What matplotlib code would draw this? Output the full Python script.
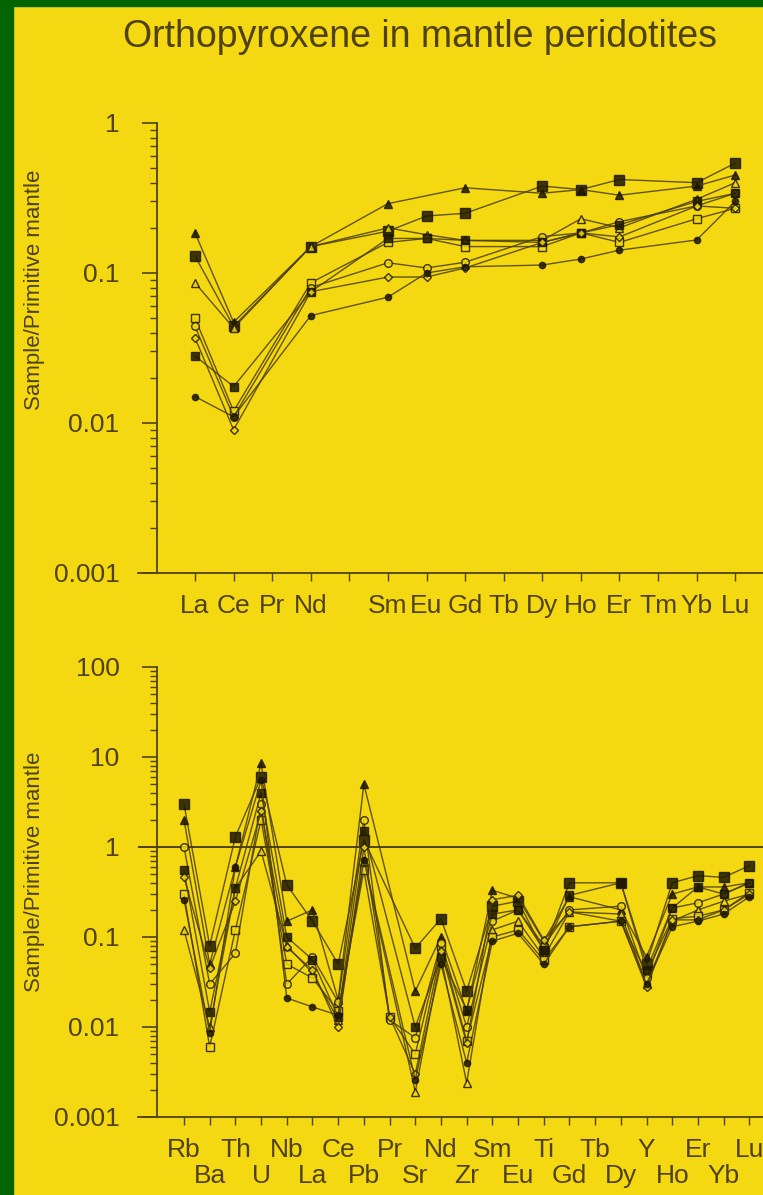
import numpy as np
import matplotlib
matplotlib.use('Agg')
import matplotlib.pyplot as plt
from matplotlib.patches import Rectangle
from matplotlib.ticker import LogLocator, NullFormatter

n = np.nan

# REE pattern (upper panel)
ree = ['La', 'Ce', 'Pr', 'Nd', '', 'Sm', 'Eu', 'Gd', 'Tb', 'Dy', 'Ho', 'Er', 'Tm', 'Yb', 'Lu']
ree_a = [0.13, 0.044, n, 0.15, n, 0.19, 0.24, 0.25, n, 0.38, 0.36, 0.42, n, 0.40, 0.54]
ree_b = [0.185, 0.047, n, 0.15, n, 0.29, n, 0.37, n, 0.34, 0.36, 0.33, n, 0.38, 0.45]
ree_c = [0.086, 0.043, n, 0.15, n, 0.20, 0.18, 0.165, n, 0.165, 0.23, 0.20, n, 0.31, 0.40]
ree_d = [0.05, 0.012, n, 0.086, n, 0.16, 0.17, 0.15, n, 0.15, 0.185, 0.16, n, 0.23, 0.27]
ree_e = [0.044, 0.011, n, 0.08, n, 0.117, 0.108, 0.118, n, 0.175, 0.185, 0.22, n, 0.28, 0.34]
ree_f = [0.028, 0.0175, n, 0.075, n, 0.17, 0.17, 0.165, n, 0.16, 0.185, 0.21, n, 0.30, 0.34]
ree_g = [0.037, 0.009, n, 0.075, n, 0.094, 0.094, 0.108, n, 0.16, 0.185, 0.174, n, 0.28, 0.27]
ree_h = [0.015, 0.011, n, 0.052, n, 0.069, 0.10, 0.11, n, 0.113, 0.124, 0.142, n, 0.166, 0.30]

# extended trace element pattern (lower panel)
trace = ['Rb', 'Ba', 'Th', 'U', 'Nb', 'La', 'Ce', 'Pb', 'Pr', 'Sr', 'Nd', 'Zr',
         'Sm', 'Eu', 'Ti', 'Gd', 'Tb', 'Dy', 'Y', 'Ho', 'Er', 'Yb', 'Lu']
tr_1 = [3.0, 0.08, 1.3, 6.0, 0.38, 0.15, 0.05, 1.2, n, 0.075, 0.16, 0.025, 0.22, 0.25, 0.07, 0.40, n, 0.40, 0.05, 0.40, 0.48, 0.46, 0.62]
tr_2 = [2.0, 0.05, 0.6, 8.5, 0.15, 0.20, 0.02, 5.0, n, 0.025, 0.10, 0.015, 0.33, 0.27, 0.09, 0.28, n, 0.20, 0.06, 0.30, 0.36, 0.36, 0.40]
tr_3 = [0.12, 0.01, 0.35, 0.9, 0.08, 0.04, 0.012, 0.7, n, 0.0019, 0.06, 0.0024, 0.12, 0.15, 0.06, 0.19, n, 0.18, 0.03, 0.15, 0.20, 0.25, 0.30]
tr_4 = [0.30, 0.006, 0.12, 2.0, 0.05, 0.035, 0.015, 0.55, 0.013, 0.005, 0.08, 0.007, 0.10, 0.12, 0.055, 0.13, n, 0.15, 0.04, 0.16, 0.17, 0.20, 0.31]
tr_5 = [1.0, 0.03, 0.066, 3.0, 0.03, 0.06, 0.019, 2.0, 0.012, 0.0076, 0.086, 0.01, 0.15, 0.20, 0.08, 0.20, n, 0.22, 0.035, 0.21, 0.24, 0.30, 0.40]
tr_6 = [0.55, 0.0147, 0.35, 4.0, 0.10, 0.056, 0.013, 1.5, n, 0.01, 0.06, 0.0155, 0.18, 0.20, 0.072, 0.29, n, 0.40, 0.043, 0.21, 0.36, 0.30, 0.40]
tr_7 = [0.46, 0.045, 0.25, 2.5, 0.077, 0.043, 0.01, 1.0, 0.013, 0.003, 0.07, 0.0066, 0.26, 0.29, 0.093, 0.19, n, 0.15, 0.028, 0.155, 0.155, 0.20, 0.30]
tr_8 = [0.26, 0.0086, 0.6, 5.5, 0.021, 0.0167, 0.0135, 0.72, n, 0.0026, 0.05, 0.004, 0.09, 0.11, 0.05, 0.13, n, 0.15, 0.03, 0.13, 0.15, 0.18, 0.28]

yellow = '#f4d812'
green = '#006400'
ink = '#4f4210'
mark = '#1e1800'
line_c = '#4a3c06'

plt.rcParams['font.family'] = ['Liberation Sans', 'DejaVu Sans']

fig = plt.figure(figsize=(7.63, 11.95), dpi=100, facecolor=yellow)
W, H = 763.0, 1195.0

# marker styles: (marker, size, filled)
styles = [('s', 7.5, True), ('^', 5.5, True), ('^', 5.5, False), ('s', 6, False),
          ('o', 5.5, False), ('s', 6, True), ('D', 4.5, False), ('o', 4.5, True)]


def draw(ax, series):
    for vals, (mk, ms, filled) in zip(series, styles):
        v = np.array(vals, dtype=float)
        x = np.arange(len(v))
        ok = ~np.isnan(v)
        ax.plot(x[ok], v[ok], color=line_c, lw=1.0, alpha=0.85, marker=mk, ms=ms,
                mfc=mark if filled else yellow, mec=mark, mew=1.0)


def style(ax, spine_x, ticks, labels):
    ax.set_facecolor('none')
    ax.set_yscale('log')
    for s in ['top', 'right']:
        ax.spines[s].set_visible(False)
    ax.spines['left'].set_position(('data', spine_x))
    for s in ['left', 'bottom']:
        ax.spines[s].set_color(ink)
        ax.spines[s].set_linewidth(1.3)
    ax.set_yticks(ticks, labels)
    ax.yaxis.set_minor_locator(LogLocator(base=10, subs=np.arange(2, 10), numticks=20))
    ax.yaxis.set_minor_formatter(NullFormatter())
    ax.tick_params(axis='y', which='major', direction='out', length=11, width=1.2,
                   color=ink, labelcolor=ink, labelsize=19, pad=16)
    ax.tick_params(axis='y', which='minor', direction='out', length=5, width=1.0, color=ink)
    ax.tick_params(axis='x', which='both', direction='out', length=6, width=1.0,
                   color=ink, labelcolor=ink, labelsize=19, pad=9)


# upper panel
ax1 = fig.add_axes([138 / W, 1 - 573 / H, (775 - 138) / W, 450 / H])
ax1.set_xlim(-1.477, 15.03)
ax1.set_ylim(1e-3, 1)
style(ax1, -0.984, [1e-3, 1e-2, 1e-1, 1], ['0.001', '0.01', '0.1', '1'])
ax1.set_xticks(range(len(ree)), ree)
draw(ax1, [ree_a, ree_b, ree_c, ree_d, ree_e, ree_f, ree_g, ree_h])

# lower panel: labels alternate between two rows
ax2 = fig.add_axes([138 / W, 1 - 1117 / H, (775 - 138) / W, 450 / H])
ax2.set_xlim(-1.79, 23.0)
ax2.set_ylim(1e-3, 100)
style(ax2, -1.05, [1e-3, 1e-2, 1e-1, 1, 10, 100], ['0.001', '0.01', '0.1', '1', '10', '100'])
ax2.set_xticks(range(0, len(trace), 2), trace[0::2])
ax2.set_xticks(range(1, len(trace), 2), trace[1::2], minor=True)
ax2.tick_params(axis='x', which='minor', pad=28)
ax2.axhline(1, color=ink, lw=1.4)
draw(ax2, [tr_1, tr_2, tr_3, tr_4, tr_5, tr_6, tr_7, tr_8])

fig.text(420 / W, 1 - 37 / H, 'Orthopyroxene in mantle peridotites', fontsize=27,
         color=ink, ha='center', va='center')
fig.text(35 / W, 1 - 290 / H, 'Sample/Primitive mantle', fontsize=16, color=ink,
         rotation=90, ha='center', va='center')
fig.text(35 / W, 1 - 872 / H, 'Sample/Primitive mantle', fontsize=16, color=ink,
         rotation=90, ha='center', va='center')

# green frame strips (left and top)
fig.add_artist(Rectangle((0, 0), 13 / W, 1, transform=fig.transFigure, color=green, zorder=10))
fig.add_artist(Rectangle((0, 1 - 6 / H), 1, 6 / H, transform=fig.transFigure, color=green, zorder=10))

fig.savefig('out.png', dpi=100, facecolor=yellow)
